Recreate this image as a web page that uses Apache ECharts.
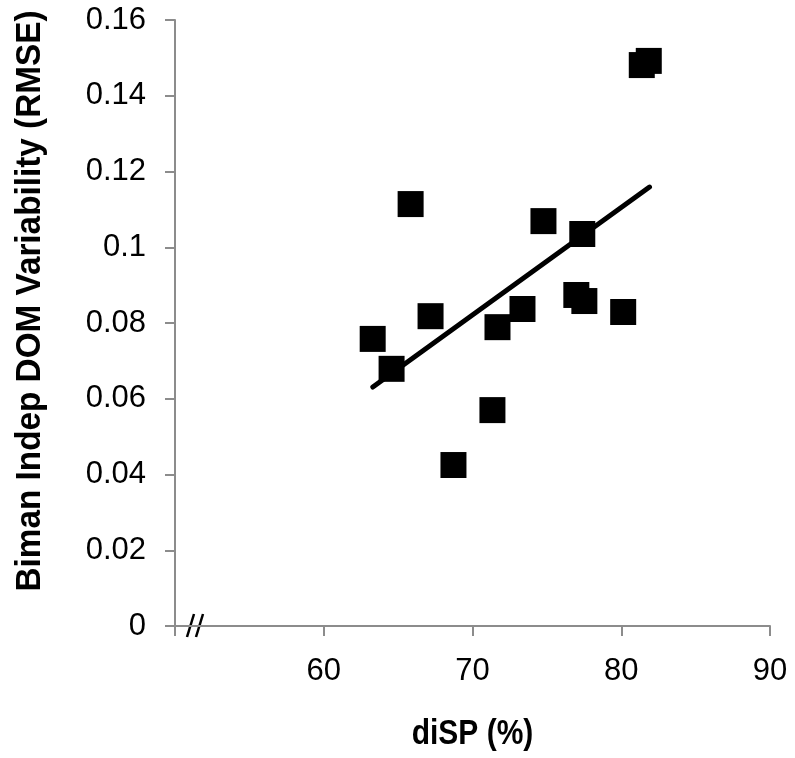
<!DOCTYPE html>
<html>
<head>
<meta charset="utf-8">
<script src="https://cdn.jsdelivr.net/npm/echarts@6/dist/echarts.min.js"></script>
<style>html,body{margin:0;padding:0;background:#fff}#c{width:795px;height:758px}</style>
</head>
<body>
<div id="c"></div>
<script>
var xValues = [63.29, 64.56, 65.84, 67.18, 68.72, 71.34, 71.68, 73.36, 74.77, 76.98, 77.38, 77.52, 80.13, 81.38, 81.85];
var yValues = [0.0758, 0.0679, 0.1114, 0.0818, 0.0425, 0.0570, 0.0789, 0.0837, 0.1069, 0.0874, 0.1035, 0.0858, 0.0829, 0.1481, 0.1492];
var trendX = [63.3, 81.9];
var trendY = [0.0631, 0.1159];
var xTicks = [50, 60, 70, 80, 90];
var yTicks = [0, 0.02, 0.04, 0.06, 0.08, 0.1, 0.12, 0.14, 0.16];
var xTitle = 'diSP (%)';
var yTitle = 'Biman Indep DOM Variability (RMSE)';

var chart = echarts.init(document.getElementById('c'), null, {renderer: 'canvas'});
var FONT = 'Liberation Sans, Arial, sans-serif';
var axisColor = '#8c8c8c';
var option = {
  animation: false,
  backgroundColor: '#fff',
  grid: {left: 175, right: 25, top: 20, bottom: 132, containLabel: false},
  xAxis: {
    type: 'value', min: xTicks[0], max: xTicks[xTicks.length - 1], interval: 10,
    axisLine: {onZero: false, lineStyle: {color: axisColor, width: 2}},
    axisTick: {show: true, inside: false, length: 10, lineStyle: {color: axisColor, width: 2}},
    splitLine: {show: false},
    axisLabel: {margin: 30, fontSize: 31, color: '#000', fontFamily: FONT,
      formatter: function (v) { return v === xTicks[0] ? '' : String(v); }}
  },
  yAxis: {
    type: 'value', min: yTicks[0], max: yTicks[yTicks.length - 1], interval: 0.02,
    axisLine: {show: true, onZero: false, lineStyle: {color: axisColor, width: 2}},
    axisTick: {show: true, inside: false, length: 10, lineStyle: {color: axisColor, width: 2}},
    splitLine: {show: false},
    axisLabel: {margin: 29, fontSize: 31, color: '#000', fontFamily: FONT,
      formatter: function (v) { return String(Math.round(v * 100) / 100); }}
  },
  series: [
    {
      type: 'line', data: trendX.map(function (x, i) { return [x, trendY[i]]; }),
      symbol: 'none', lineStyle: {color: '#000', width: 5, cap: 'round'}, z: 2
    },
    {
      type: 'scatter', data: xValues.map(function (x, i) { return [x, yValues[i]]; }),
      symbol: 'rect', symbolSize: 26, itemStyle: {color: '#000', opacity: 1}, z: 3
    }
  ]
};
chart.setOption(option);

var origin = chart.convertToPixel({gridIndex: 0}, [xTicks[0], yTicks[0]]);
var right = chart.convertToPixel({gridIndex: 0}, [xTicks[xTicks.length - 1], yTicks[0]]);
var bx = origin[0] + 15, by = origin[1];
chart.setOption({
  graphic: [
    {type: 'line', shape: {x1: bx - 3, y1: by + 11, x2: bx + 4, y2: by - 12}, style: {stroke: '#000', lineWidth: 2.5}},
    {type: 'line', shape: {x1: bx + 6, y1: by + 11, x2: bx + 13, y2: by - 12}, style: {stroke: '#000', lineWidth: 2.5}},
    {type: 'text', x: (origin[0] + right[0]) / 2, y: origin[1] + 108, scaleY: 1.15,
      style: {text: xTitle, font: 'bold 30px ' + FONT, fill: '#000', textAlign: 'center', textVerticalAlign: 'middle'}},
    {type: 'text', x: 30, y: 301, rotation: Math.PI / 2, scaleX: 1.11, scaleY: 1.15,
      style: {text: yTitle, font: 'bold 30px ' + FONT, fill: '#000', textAlign: 'center', textVerticalAlign: 'middle'}}
  ]
});
</script>
</body>
</html>
